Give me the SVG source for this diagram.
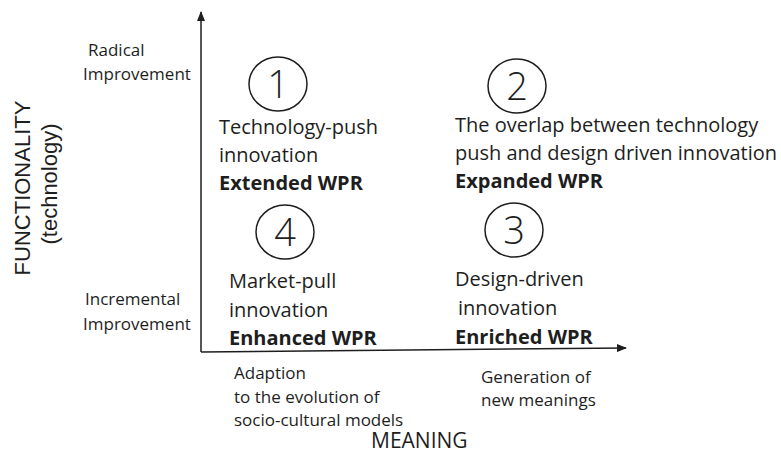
<svg xmlns="http://www.w3.org/2000/svg" width="781" height="454" viewBox="0 0 781 454">
<style>
.t{font-family:"Open Sans","Noto Sans",sans-serif;fill:#1e1e1e;}
.q{font-size:20px;}
.b{font-weight:bold;}
.s{font-size:17px;}
.c{fill:none;stroke:#1e1e1e;stroke-width:1.5;}
.n{font-family:"Open Sans",sans-serif;font-size:38px;font-weight:300;fill:#1e1e1e;text-anchor:middle;}
.ax{stroke:#1e1e1e;stroke-width:1.5;fill:none;}
.v{font-family:"Liberation Sans",Arial,sans-serif;font-size:22px;fill:#1e1e1e;text-anchor:middle;}
</style>
<defs>
<marker id="ah" markerWidth="10" markerHeight="8" refX="9" refY="4" orient="auto" markerUnits="userSpaceOnUse">
<path d="M0,0 L10,4 L0,8 Z" fill="#1e1e1e"/>
</marker>
</defs>
<g id="connectors">
<line class="ax" x1="201" y1="352" x2="201" y2="12" marker-end="url(#ah)"/>
<line class="ax" x1="201" y1="352" x2="626" y2="348" marker-end="url(#ah)"/>
</g>
<g id="axis-y-label">
<text class="v" transform="translate(30,188) rotate(-90)">FUNCTIONALITY</text>
<text class="v" transform="translate(57,184) rotate(-90)">(technology)</text>
</g>
<g id="y-radical">
<text class="t s" x="88" y="56">Radical</text>
<text class="t s" x="83" y="80">Improvement</text>
</g>
<g id="y-incremental">
<text class="t s" x="85" y="305">Incremental</text>
<text class="t s" x="83" y="330">Improvement</text>
</g>
<g id="q1">
<ellipse class="c" cx="278" cy="84" rx="29" ry="27"/>
<text class="n" x="278" y="98">1</text>
<text class="t q" x="219" y="134">Technology-push</text>
<text class="t q" x="219" y="162">innovation</text>
<text class="t q b" x="219" y="190">Extended WPR</text>
</g>
<g id="q2">
<ellipse class="c" cx="517" cy="86" rx="29" ry="27"/>
<text class="n" x="517" y="100">2</text>
<text class="t q" x="455" y="132">The overlap between technology</text>
<text class="t q" x="455" y="160">push and design driven innovation</text>
<text class="t q b" x="455" y="188">Expanded WPR</text>
</g>
<g id="q4">
<ellipse class="c" cx="285" cy="232" rx="29" ry="27"/>
<text class="n" x="285" y="246">4</text>
<text class="t q" x="229" y="288">Market-pull</text>
<text class="t q" x="229" y="317">innovation</text>
<text class="t q b" x="229" y="345">Enhanced WPR</text>
</g>
<g id="q3">
<ellipse class="c" cx="514" cy="230" rx="29" ry="27"/>
<text class="n" x="514" y="244">3</text>
<text class="t q" x="455" y="286">Design-driven</text>
<text class="t q" x="458" y="315">innovation</text>
<text class="t q b" x="455" y="344">Enriched WPR</text>
</g>
<g id="x-left">
<text class="t s" x="234" y="379">Adaption</text>
<text class="t s" x="234" y="403">to the evolution of</text>
<text class="t s" x="234" y="426">socio-cultural models</text>
</g>
<g id="x-right">
<text class="t s" x="481" y="383">Generation of</text>
<text class="t s" x="481" y="406">new meanings</text>
</g>
<g id="x-label">
<text class="t" x="371" y="448" style="font-size:21px">MEANING</text>
</g>
</svg>
